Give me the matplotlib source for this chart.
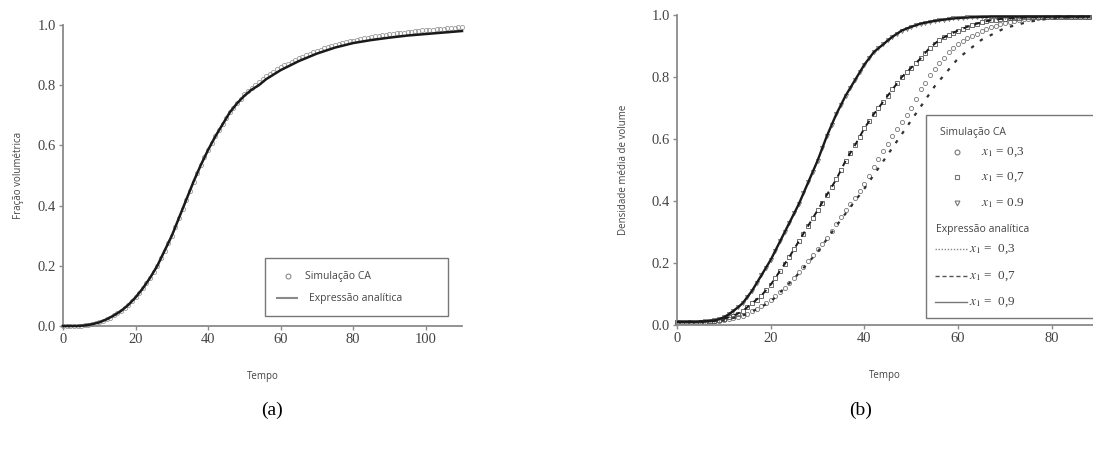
import matplotlib
matplotlib.use("Agg")
import matplotlib.pyplot as plt
from matplotlib.lines import Line2D
from matplotlib.patches import Rectangle

plt.rcParams['mathtext.fontset'] = 'stix'

# ---------------- data: panel (a) ----------------
t_a_sim = list(range(0, 111))
f_a_sim = [0, 0, 0, 0, 0, 0.001, 0.002, 0.004, 0.006, 0.009,
           0.012, 0.017, 0.022, 0.028, 0.035, 0.042, 0.05, 0.06, 0.07, 0.082,
           0.095, 0.11, 0.125, 0.142, 0.16, 0.18, 0.2, 0.225, 0.25, 0.275,
           0.3, 0.33, 0.36, 0.39, 0.42, 0.45, 0.48, 0.508, 0.535, 0.56,
           0.585, 0.608, 0.63, 0.65, 0.67, 0.69, 0.71, 0.725, 0.74, 0.755,
           0.77, 0.78, 0.79, 0.8, 0.81, 0.82, 0.83, 0.838, 0.845, 0.853,
           0.86, 0.866, 0.872, 0.878, 0.884, 0.89, 0.895, 0.9, 0.905, 0.91,
           0.914, 0.918, 0.922, 0.926, 0.93, 0.934, 0.937, 0.94, 0.943, 0.946,
           0.948, 0.951, 0.953, 0.956, 0.958, 0.96, 0.962, 0.964, 0.966, 0.968,
           0.969, 0.971, 0.972, 0.974, 0.975, 0.977, 0.978, 0.979, 0.98, 0.982,
           0.983, 0.984, 0.985, 0.986, 0.987, 0.988, 0.989, 0.99, 0.991, 0.992,
           0.993]
t_a_fit = [0, 4, 6, 8, 10, 12, 14, 16, 18, 20, 22, 24, 26, 28, 30, 32, 34, 36, 38, 40, 42,
           44, 46, 48, 50, 52, 54, 56, 58, 60, 65, 70, 75, 80, 85, 90, 95, 100, 105, 110]
f_a_fit = [0, 0, 0.002, 0.006, 0.012, 0.022, 0.035, 0.05, 0.07, 0.095, 0.125, 0.16, 0.2,
           0.25, 0.3, 0.36, 0.42, 0.48, 0.535, 0.585, 0.63, 0.67, 0.71, 0.74, 0.765, 0.785,
           0.8, 0.82, 0.835, 0.85, 0.88, 0.905, 0.925, 0.94, 0.95, 0.958, 0.965, 0.97,
           0.975, 0.98]

# ---------------- data: panel (b) ----------------
t_b = list(range(0, 89))
d_09 = [0.01, 0.01, 0.01, 0.01, 0.01, 0.011, 0.012, 0.013, 0.015, 0.019,
        0.025, 0.034, 0.045, 0.057, 0.07, 0.09, 0.11, 0.135, 0.16, 0.185,
        0.21, 0.24, 0.27, 0.3, 0.33, 0.36, 0.39, 0.425, 0.46, 0.495,
        0.53, 0.57, 0.61, 0.645, 0.68, 0.71, 0.74, 0.765, 0.79, 0.815,
        0.84, 0.86, 0.88, 0.893, 0.905, 0.918, 0.93, 0.94, 0.95, 0.956,
        0.962, 0.967, 0.972, 0.975, 0.978, 0.981, 0.983, 0.985, 0.987, 0.989,
        0.99, 0.991, 0.992, 0.993, 0.993, 0.994, 0.994, 0.995, 0.995, 0.995,
        0.995, 0.995, 0.995, 0.995, 0.995, 0.995, 0.995, 0.995, 0.995, 0.995,
        0.995, 0.995, 0.995, 0.995, 0.995, 0.995, 0.995, 0.995, 0.995]
d_07 = [0.01, 0.01, 0.01, 0.01, 0.01, 0.01, 0.011, 0.012, 0.013, 0.016,
        0.02, 0.025, 0.03, 0.037, 0.045, 0.057, 0.07, 0.082, 0.095, 0.112,
        0.13, 0.152, 0.175, 0.197, 0.22, 0.245, 0.27, 0.295, 0.32, 0.345,
        0.37, 0.395, 0.42, 0.445, 0.47, 0.5, 0.53, 0.555, 0.58, 0.607,
        0.635, 0.657, 0.68, 0.7, 0.72, 0.74, 0.76, 0.78, 0.8, 0.815,
        0.83, 0.845, 0.86, 0.878, 0.895, 0.907, 0.92, 0.928, 0.935, 0.943,
        0.95, 0.956, 0.962, 0.967, 0.972, 0.976, 0.98, 0.983, 0.985, 0.987,
        0.988, 0.989, 0.99, 0.991, 0.992, 0.992, 0.993, 0.993, 0.994, 0.994,
        0.995, 0.995, 0.995, 0.995, 0.995, 0.995, 0.995, 0.995, 0.995]
d_03 = [0.01, 0.01, 0.01, 0.01, 0.01, 0.01, 0.011, 0.011, 0.012, 0.014,
        0.016, 0.019, 0.022, 0.026, 0.03, 0.037, 0.045, 0.052, 0.06, 0.07,
        0.08, 0.092, 0.105, 0.12, 0.135, 0.152, 0.17, 0.187, 0.205, 0.225,
        0.245, 0.262, 0.28, 0.302, 0.325, 0.347, 0.37, 0.39, 0.41, 0.432,
        0.455, 0.482, 0.51, 0.535, 0.56, 0.585, 0.61, 0.632, 0.655, 0.677,
        0.7, 0.73, 0.76, 0.782, 0.805, 0.825, 0.845, 0.862, 0.88, 0.893,
        0.905, 0.915, 0.925, 0.932, 0.94, 0.947, 0.955, 0.96, 0.965, 0.97,
        0.975, 0.978, 0.982, 0.985, 0.987, 0.988, 0.99, 0.991, 0.992, 0.993,
        0.994, 0.994, 0.995, 0.995, 0.995, 0.995, 0.995, 0.995, 0.995]
t_b_fit03 = [0, 10, 15, 20, 25, 30, 35, 40, 45, 50, 55, 60, 65, 70, 75, 80, 88]
d_fit03 = [0.01, 0.015, 0.035, 0.075, 0.15, 0.235, 0.34, 0.44, 0.55, 0.66, 0.77, 0.86,
           0.92, 0.958, 0.978, 0.99, 0.995]

x_ticks_a = [0, 20, 40, 60, 80, 100]
x_ticks_b = [0, 20, 40, 60, 80]
y_ticks = [0.0, 0.2, 0.4, 0.6, 0.8, 1.0]

W, H = 1093, 450
fig = plt.figure(figsize=(W / 100, H / 100), dpi=100)

SERIF = ['Liberation Serif', 'DejaVu Serif']
SANS = ['Open Sans', 'DejaVu Sans']
spine_c = '#8a8a8a'
txt_c = '#444444'


def style_axes(ax):
    for s in ['top', 'right']:
        ax.spines[s].set_visible(False)
    for s in ['left', 'bottom']:
        ax.spines[s].set_color(spine_c)
        ax.spines[s].set_linewidth(1.3)
    ax.tick_params(axis='both', direction='out', length=3, width=1, color=spine_c,
                   labelsize=10.5, labelcolor=txt_c, pad=2,
                   labelfontfamily='Liberation Serif')


def fx(px):
    return px / W


def fy(py):
    return 1 - py / H


# ---------------- panel (a) ----------------
ax1 = fig.add_axes([fx(63), fy(326), fx(462) - fx(63), fy(25) - fy(326)])
ax1.plot(t_a_sim, f_a_sim, linestyle='none', marker='o', ms=3.0, mfc='none',
         mec='#9a9a9a', mew=0.6, clip_on=False, zorder=2)
ax1.plot(t_a_fit, f_a_fit, color='#1a1a1a', lw=1.8, zorder=3, clip_on=False)
ax1.set_xlim(0, 110)
ax1.set_ylim(0, 1.0)
ax1.set_xticks(x_ticks_a)
ax1.set_yticks(y_ticks)
ax1.set_yticklabels([f"{v:.1f}" for v in y_ticks])
style_axes(ax1)
ax1.set_xlabel('Tempo', family=SANS, fontsize=7, color=txt_c, labelpad=18)
ax1.set_ylabel('Fração volumétrica', family=SANS, fontsize=7, color=txt_c, labelpad=10)

# manual legend for (a)
fig.patches.append(Rectangle((fx(265), fy(316)), fx(448) - fx(265), fy(258) - fy(316),
                             transform=fig.transFigure, fill=False, ec='#777777', lw=1.0,
                             zorder=10))
fig.add_artist(Line2D([fx(288)], [fy(276)], ls='none', marker='o', ms=3.5, mfc='none',
                      mec='#8a8a8a', mew=0.8, transform=fig.transFigure))
fig.text(fx(305), fy(276), 'Simulação CA', family=SANS, fontsize=7.5, color=txt_c,
         va='center', ha='left')
fig.add_artist(Line2D([fx(277), fx(297)], [fy(298), fy(298)], color='#8a8a8a', lw=1.5,
                      transform=fig.transFigure))
fig.text(fx(309), fy(298), 'Expressão analítica', family=SANS, fontsize=7.5, color=txt_c,
         va='center', ha='left')

# ---------------- panel (b) ----------------
ax2 = fig.add_axes([fx(677), fy(325), 1.0 - fx(677), fy(15) - fy(325)])
ax2.plot(t_b, d_03, linestyle='none', marker='o', ms=3.0, mfc='none', mec='#777777',
         mew=0.6, zorder=2, clip_on=False)
ax2.plot(t_b, d_07, linestyle='none', marker='s', ms=2.8, mfc='none', mec='#555555',
         mew=0.6, zorder=2, clip_on=False)
ax2.plot(t_b, d_09, linestyle='none', marker='v', ms=3.0, mfc='none', mec='#777777',
         mew=0.6, zorder=2, clip_on=False)
ax2.plot(t_b_fit03, d_fit03, color='#333333', lw=1.6, ls=(0, (1.5, 3.5)), zorder=3)
ax2.plot(t_b, d_07, color='#1a1a1a', lw=1.4, ls=(0, (3, 3)), zorder=3)
ax2.plot(t_b, d_09, color='#1a1a1a', lw=1.7, zorder=3)
ax2.set_xlim(0, 88.8)
ax2.set_ylim(0, 1.0)
ax2.set_xticks(x_ticks_b)
ax2.set_yticks(y_ticks)
ax2.set_yticklabels([f"{v:.1f}" for v in y_ticks])
style_axes(ax2)
ax2.set_xlabel('Tempo', family=SANS, fontsize=7, color=txt_c, labelpad=18)
ax2.set_ylabel('Densidade média de volume', family=SANS, fontsize=7, color=txt_c,
               labelpad=16)

# manual legend for (b)
fig.patches.append(Rectangle((fx(926), fy(318)), 1.0 - fx(926) + 0.01, fy(115) - fy(318),
                             transform=fig.transFigure, fill=False, ec='#777777', lw=1.0,
                             zorder=10))
fig.text(fx(940), fy(132), 'Simulação CA', family=SANS, fontsize=7.5, color=txt_c,
         va='center', ha='left')
rows_m = [(152, 'o', '$x_1$ = 0,3'), (177, 's', '$x_1$ = 0,7'), (203, 'v', '$x_1$ = 0.9')]
for py, m, lab in rows_m:
    fig.add_artist(Line2D([fx(957)], [fy(py)], ls='none', marker=m, ms=3.5, mfc='none',
                          mec='#777777', mew=0.8, transform=fig.transFigure))
    fig.text(fx(981), fy(py), lab, family=SERIF, fontsize=9.5, color=txt_c, va='center',
             ha='left')
fig.text(fx(936), fy(230), 'Expressão analítica', family=SANS, fontsize=7.5, color=txt_c,
         va='center', ha='left')
rows_l = [(249, (0, (1, 1.2)), '#888888', '$x_1$ =  0,3'),
          (276, (0, (3, 2)), '#555555', '$x_1$ =  0,7'),
          (302, '-', '#777777', '$x_1$ =  0,9')]
for py, ls, c, lab in rows_l:
    fig.add_artist(Line2D([fx(935), fx(967)], [fy(py), fy(py)], ls=ls, color=c, lw=1.0,
                          transform=fig.transFigure))
    fig.text(fx(969), fy(py), lab, family=SERIF, fontsize=9.5, color=txt_c, va='center',
             ha='left')

# panel captions
fig.text(fx(272), fy(410), '(a)', family=SERIF, fontsize=14, color='black',
         ha='center', va='center')
fig.text(fx(861), fy(410), '(b)', family=SERIF, fontsize=14, color='black',
         ha='center', va='center')

fig.savefig('out.png', dpi=100, facecolor='white')
